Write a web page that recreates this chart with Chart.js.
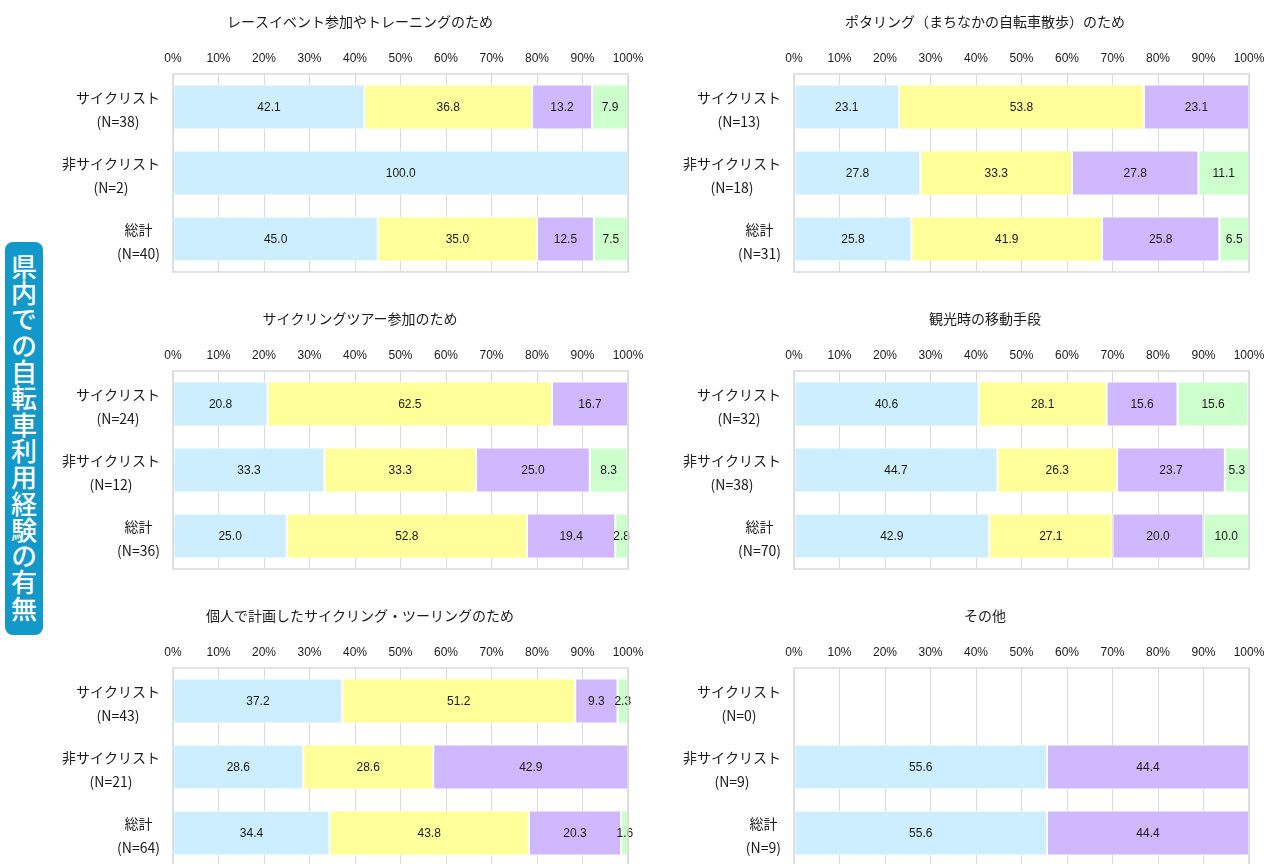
<!DOCTYPE html>
<html lang="ja">
<head>
<meta charset="utf-8">
<script src="https://cdn.jsdelivr.net/npm/chart.js@4.4.1/dist/chart.umd.min.js"></script>
<style>
  html, body { margin: 0; padding: 0; background: #fff; }
  body { width: 1266px; height: 864px; position: relative; overflow: hidden; }
  canvas { position: absolute; }
  #sideLabel {
    position: absolute; left: 5px; top: 242px; width: 38px; height: 393px;
    background: #1399c9; border-radius: 8px; color: #fff;
    writing-mode: vertical-rl; text-orientation: upright;
    font-family: "Noto Sans CJK JP", sans-serif; font-size: 26px; font-weight: 500;
    display: flex; align-items: center; justify-content: center; letter-spacing: 0.3px;
  }
</style>
</head>
<body>
<div id="sideLabel">県内での自転車利用経験の有無</div>

<script>
// panel order: left/right, top to bottom
const panelTitles = [
  'レースイベント参加やトレーニングのため',
  'ポタリング（まちなかの自転車散歩）のため',
  'サイクリングツアー参加のため',
  '観光時の移動手段',
  '個人で計画したサイクリング・ツーリングのため',
  'その他'
];
const groupNames = ['サイクリスト', '非サイクリスト', '総計'];
const sampleSizes = [
  [38, 2, 40],
  [13, 18, 31],
  [24, 12, 36],
  [32, 38, 70],
  [43, 21, 64],
  [0, 9, 9]
];
// share (%) per group: サイクリスト, 非サイクリスト, 総計
const blueValues = [
  [42.1, 100.0, 45.0],
  [23.1, 27.8, 25.8],
  [20.8, 33.3, 25.0],
  [40.6, 44.7, 42.9],
  [37.2, 28.6, 34.4],
  [null, 55.6, 55.6]
];
const yellowValues = [
  [36.8, null, 35.0],
  [53.8, 33.3, 41.9],
  [62.5, 33.3, 52.8],
  [28.1, 26.3, 27.1],
  [51.2, 28.6, 43.8],
  [null, null, null]
];
const purpleValues = [
  [13.2, null, 12.5],
  [23.1, 27.8, 25.8],
  [16.7, 25.0, 19.4],
  [15.6, 23.7, 20.0],
  [9.3, 42.9, 20.3],
  [null, 44.4, 44.4]
];
const greenValues = [
  [7.9, null, 7.5],
  [null, 11.1, 6.5],
  [null, 8.3, 2.8],
  [15.6, 5.3, 10.0],
  [2.3, null, 1.6],
  [null, null, null]
];
const xTicks = [0, 10, 20, 30, 40, 50, 60, 70, 80, 90, 100];

const colors = ['#cceeff', '#ffff99', '#d0b8ff', '#ccffcc'];
const jpFont = '"Noto Sans CJK JP", sans-serif';
const numFont = '"Liberation Sans", Arial, sans-serif';

// value labels in the middle of each segment
const segmentLabels = {
  id: 'segmentLabels',
  afterDatasetsDraw(chart) {
    const ctx = chart.ctx;
    ctx.save();
    ctx.font = '12px ' + numFont;
    ctx.fillStyle = '#1a1a1a';
    ctx.textAlign = 'center';
    ctx.textBaseline = 'middle';
    chart.data.datasets.forEach((ds, d) => {
      const meta = chart.getDatasetMeta(d);
      meta.data.forEach((el, i) => {
        const v = ds.data[i];
        if (v == null || v === 0) return;
        ctx.fillText(v.toFixed(1), (el.x + el.base) / 2, el.y + 1);
      });
    });
    ctx.restore();
  }
};

// two-line group labels, block right aligned, lines centred
const groupLabels = {
  id: 'groupLabels',
  afterDraw(chart, args, opts) {
    const ctx = chart.ctx;
    const y = chart.scales.y;
    const right = chart.chartArea.left - 13;
    ctx.save();
    ctx.font = '14px ' + jpFont;
    ctx.fillStyle = '#1a1a1a';
    ctx.textAlign = 'center';
    ctx.textBaseline = 'middle';
    opts.names.forEach((name, i) => {
      const lines = [name, '(N=' + opts.sizes[i] + ')'];
      const w = Math.max(...lines.map(t => ctx.measureText(t).width));
      const cx = right - w / 2;
      const cy = y.getPixelForValue(i) + 3;
      ctx.fillText(lines[0], cx, cy - 12);
      ctx.fillText(lines[1], cx, cy + 12);
    });
    ctx.restore();
  }
};

// thin grey frame round the plot area
const plotFrame = {
  id: 'plotFrame',
  afterDatasetsDraw(chart) {
    const a = chart.chartArea;
    const ctx = chart.ctx;
    ctx.save();
    ctx.strokeStyle = '#d9d9d9';
    ctx.lineWidth = 1.5;
    ctx.strokeRect(a.left, a.top, a.right - a.left, a.bottom - a.top);
    ctx.restore();
  }
};

panelTitles.forEach((title, p) => {
  const isLeft = p % 2 === 0;
  const row = Math.floor(p / 2);
  const canvas = document.createElement('canvas');
  const w = isLeft ? 670 : 596;
  canvas.width = w;
  canvas.height = 297;
  canvas.style.left = (isLeft ? 0 : 670) + 'px';
  canvas.style.top = (row * 297) + 'px';
  canvas.style.width = w + 'px';
  canvas.style.height = '297px';
  document.body.appendChild(canvas);

  const seriesData = [blueValues[p], yellowValues[p], purpleValues[p], greenValues[p]];

  new Chart(canvas, {
    type: 'bar',
    data: {
      labels: groupNames,
      datasets: seriesData.map((vals, s) => ({
        data: vals,
        backgroundColor: colors[s],
        borderColor: '#ffffff',
        borderWidth: 1,
        borderSkipped: false,
        barPercentage: 0.85,
        categoryPercentage: 0.8
      }))
    },
    options: {
      indexAxis: 'y',
      responsive: false,
      animation: false,
      layout: {
        padding: { left: isLeft ? 92 : 51, right: isLeft ? 42 : 17, top: 0, bottom: 25 }
      },
      plugins: {
        legend: { display: false },
        tooltip: { enabled: false },
        title: {
          display: true,
          text: title,
          color: '#1a1a1a',
          font: { family: jpFont, size: 14, weight: 'normal', lineHeight: 1.2 },
          padding: { top: 13, bottom: 10 }
        },
        groupLabels: { names: groupNames, sizes: sampleSizes[p] }
      },
      scales: {
        x: {
          position: 'top',
          stacked: true,
          min: 0,
          max: 100,
          afterBuildTicks: scale => { scale.ticks = xTicks.map(v => ({ value: v })); },
          afterFit: scale => {
            scale.height = 34.2;
            scale.paddingLeft = 0;
            scale.paddingRight = 0;
          },
          ticks: {
            callback: v => v + '%',
            color: '#1a1a1a',
            font: { family: numFont, size: 12 },
            padding: 8,
            maxRotation: 0,
            autoSkip: false
          },
          grid: { color: '#d9d9d9', lineWidth: 1, drawTicks: false },
          border: { display: false }
        },
        y: {
          stacked: true,
          afterFit: scale => { scale.width = isLeft ? 81 : 73; },
          ticks: { display: false },
          grid: { display: false },
          border: { display: false }
        }
      }
    },
    plugins: [segmentLabels, groupLabels, plotFrame]
  });
});
</script>
</body>
</html>
